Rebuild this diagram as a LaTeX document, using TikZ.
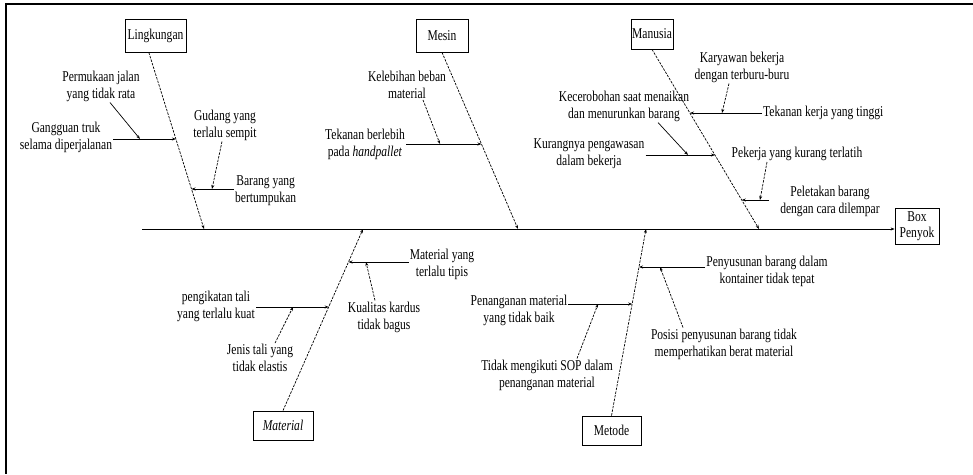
\documentclass[tikz,border=0pt]{standalone}
\usepackage{fontspec}
\setmainfont{Liberation Serif}[FakeStretch=0.77]
\usetikzlibrary{arrows.meta}
\tikzset{
  lbl/.style={align=center, inner sep=1pt, font=\fontsize{15}{17}\selectfont},
  cause/.style={draw, line width=0.8pt, inner sep=1pt, align=center, font=\fontsize{15}{16}\selectfont},
  bone/.style={line width=0.7pt, dash pattern=on 2.5pt off 1.2pt, -{Stealth[length=4pt,width=3pt]}},
  twig/.style={line width=0.7pt, dash pattern=on 2.5pt off 1.2pt, -{Stealth[length=4pt,width=3pt]}},
  rib/.style={line width=0.8pt, -{Stealth[length=4pt,width=3pt]}},
}
\begin{document}
\begin{tikzpicture}[x=1pt, y=-1pt]
  \useasboundingbox (0,0) rectangle (973,474);
  \draw[line width=2.5pt] (973,4) -- (6,4) -- (6,474);

  \node[cause, minimum width=61pt, minimum height=33pt] (lingkungan) at (155.5,35.5) {Lingkungan};
  \node[cause, minimum width=52pt, minimum height=33pt] (mesin) at (442,35.5) {Mesin};
  \node[cause, minimum width=42pt, minimum height=30pt] (manusia) at (652,34) {Manusia};
  \node[cause, minimum width=60pt, minimum height=29pt] (material) at (283,425.5) {\textit{Material}};
  \node[cause, minimum width=59pt, minimum height=29pt] (metode) at (611.5,430.5) {Metode};
  \node[cause, minimum width=44pt, minimum height=36pt] (head) at (917,226) {Box\\Penyok};

  \coordinate (tail) at (142,229);
  \coordinate (L0) at (204,229);
  \coordinate (M0) at (518,229);
  \coordinate (H0) at (759,229);
  \coordinate (T0) at (363,229);
  \coordinate (D0) at (646,229);

  \draw[rib] (tail) -- (head.west |- tail);
  \draw[bone] ([xshift=-6.7pt]lingkungan.south) -- (L0);
  \draw[bone] (mesin.south) -- (M0);
  \draw[bone] (manusia.south) -- (H0);
  \draw[bone] (material.north) -- (T0);
  \draw[bone] (metode.north) -- (D0);

  \coordinate (L1) at (175.9,139);
  \coordinate (L2) at (191.5,189);
  \coordinate (M1) at (481.5,144);
  \coordinate (H1) at (690,113);
  \coordinate (H2) at (715,155);
  \coordinate (H3) at (741.8,200);
  \coordinate (T1) at (348.5,262);
  \coordinate (T2) at (328.7,307);
  \coordinate (D1) at (639,267);
  \coordinate (D2) at (632.2,304);

  \coordinate (L1a) at (140,139);
  \coordinate (L2a) at (212,189);
  \coordinate (M1a) at (440,144);
  \coordinate (H1a) at (722,113);
  \coordinate (H2a) at (688,155);
  \coordinate (H3a) at (760,200);
  \coordinate (T1a) at (366,262);
  \coordinate (T2a) at (293,307);
  \coordinate (D1a) at (660,267);
  \coordinate (D2a) at (598,304);

  \node[lbl] (permukaan) at (101,86) {Permukaan jalan\\yang tidak rata};
  \node[lbl] (gangguan) at (66,137) {Gangguan truk\\selama diperjalanan};
  \node[lbl] (gudang) at (225,125) {Gudang yang\\terlalu sempit};
  \node[lbl, anchor=west] (barang) at (234,191) {Barang yang\\bertumpukan};
  \node[lbl] (kelebihan) at (407,85) {Kelebihan beban\\material};
  \node[lbl] (tekanan) at (365,144) {Tekanan berlebih\\pada \textit{handpallet}};
  \node[lbl] (karyawan) at (742,67) {Karyawan bekerja\\dengan terburu-buru};
  \node[lbl] (kecerobohan) at (624,106) {Kecerobohan saat menaikan\\dan menurunkan barang};
  \node[lbl, anchor=west] (tinggi) at (762,113) {Tekanan kerja yang tinggi};
  \node[lbl] (kurangnya) at (589,154) {Kurangnya pengawasan\\dalam bekerja};
  \node[lbl] (pekerja) at (797,154) {Pekerja yang kurang terlatih};
  \node[lbl] (peletakan) at (830,201) {Peletakan barang\\dengan cara dilempar};
  \node[lbl] (tipis) at (442,264) {Material yang\\terlalu tipis};
  \node[lbl] (kualitas) at (384,317) {Kualitas kardus\\tidak bagus};
  \node[lbl] (pengikatan) at (216,306) {pengikatan tali\\yang terlalu kuat};
  \node[lbl] (jenis) at (260,358) {Jenis tali yang\\tidak elastis};
  \node[lbl] (penyusunan) at (767,271) {Penyusunan barang dalam\\kontainer tidak tepat};
  \node[lbl] (posisi) at (724,344) {Posisi penyusunan barang tidak\\memperhatikan berat material};
  \node[lbl] (penanganan) at (519,310) {Penanganan material\\yang tidak baik};
  \node[lbl] (sop) at (547,375) {Tidak mengikuti SOP dalam\\penanganan material};

  \draw[rib] (gangguan.east |- L1) -- (L1);
  \draw[rib] (barang.west |- L2) -- (L2);
  \draw[rib] (tekanan.east |- M1) -- (M1);
  \draw[rib] (tinggi.west) -- (H1);
  \draw[rib] (kurangnya.east |- H2) -- (H2);
  \draw[rib] ([xshift=-10pt]peletakan.west |- H3) -- (H3);
  \draw[rib] (tipis.west |- T1) -- (T1);
  \draw[rib] (pengikatan.east |- T2) -- (T2);
  \draw[rib] (penyusunan.west |- D1) -- (D1);
  \draw[rib] (penanganan.east |- D2) -- (D2);

  \draw[twig, solid] ([xshift=9pt]permukaan.south) -- (L1a);
  \draw[twig] ([xshift=-3pt]gudang.south) -- (L2a);
  \draw[twig] ([xshift=16pt]kelebihan.south) -- (M1a);
  \draw[twig] ([xshift=-13pt]karyawan.south) -- (H1a);
  \draw[twig, solid] ([xshift=34pt]kecerobohan.south) -- (H2a);
  \draw[twig] ([xshift=-30pt]pekerja.south) -- (H3a);
  \draw[twig] ([xshift=-9pt]kualitas.north) -- (T1a);
  \draw[twig] ([xshift=15pt]jenis.north) -- (T2a);
  \draw[twig] ([xshift=-41pt]posisi.north) -- (D1a);
  \draw[twig] ([xshift=30pt]sop.north) -- (D2a);
\end{tikzpicture}
\end{document}
